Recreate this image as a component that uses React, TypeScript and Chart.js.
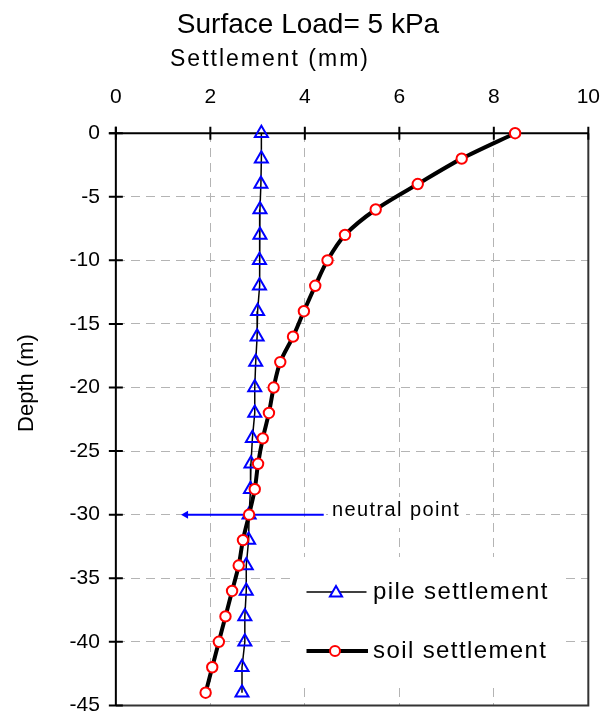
import React, { useEffect, useRef } from "react";
import { Chart, registerables } from "chart.js";

Chart.register(...registerables);

// ---- data ----
const depths = [0, -2, -4, -6, -8, -10, -12, -14, -16, -18, -20, -22, -24, -26, -28, -30, -32, -34, -36, -38, -40, -42, -44];
const pileSettlement = [3.08, 3.08, 3.07, 3.05, 3.05, 3.04, 3.04, 3.0, 2.99, 2.96, 2.94, 2.94, 2.89, 2.86, 2.85, 2.82, 2.81, 2.76, 2.76, 2.73, 2.73, 2.67, 2.67];
const soilSettlement = [8.45, 7.32, 6.39, 5.5, 4.85, 4.48, 4.22, 3.98, 3.75, 3.48, 3.34, 3.24, 3.11, 3.01, 2.94, 2.82, 2.69, 2.6, 2.46, 2.32, 2.18, 2.04, 1.9];
const seriesLabels = ["pile settlement", "soil settlement"];
const xRange = [0, 10];
const xStep = 2;
const yRange = [-45, 0];
const yStep = 5;
const neutralDepth = -30;
const neutralArrowFrom = 4.4;
const neutralArrowTo = 1.38;
const neutralLabel = "neutral point";
const chartTitle = "Surface Load= 5 kPa";
const xTitle = "Settlement (mm)";
const yTitle = "Depth (m)";

const FONT = '"Liberation Sans", Arial, sans-serif';

function trianglePath(ctx: CanvasRenderingContext2D, x: number, y: number, r: number) {
  let rad = 0;
  ctx.beginPath();
  ctx.moveTo(x + Math.sin(rad) * r, y - Math.cos(rad) * r);
  rad += (2 * Math.PI) / 3;
  ctx.lineTo(x + Math.sin(rad) * r, y - Math.cos(rad) * r);
  rad += (2 * Math.PI) / 3;
  ctx.lineTo(x + Math.sin(rad) * r, y - Math.cos(rad) * r);
  ctx.closePath();
}

const decorPlugin = {
  id: "decor",
  beforeDatasetsDraw(chart: any) {
    const { ctx, chartArea: a, scales } = chart;
    const xs = scales.x;
    const ys = scales.y;
    ctx.save();
    // white boxes behind legend and annotation text
    ctx.fillStyle = "#ffffff";
    ctx.fillRect(292, 557, 270, 126);
    ctx.fillRect(328, 497, 138, 31);

    // right & bottom border
    ctx.strokeStyle = "#333333";
    ctx.lineWidth = 2;
    ctx.beginPath();
    ctx.moveTo(a.right, a.top);
    ctx.lineTo(a.right, a.bottom);
    ctx.lineTo(a.left, a.bottom);
    ctx.stroke();

    // axes
    ctx.strokeStyle = "#000000";
    ctx.lineWidth = 2;
    ctx.beginPath();
    ctx.moveTo(a.left - 7, a.top);
    ctx.lineTo(a.right, a.top);
    ctx.moveTo(a.left, a.top - 6.5);
    ctx.lineTo(a.left, a.bottom);
    ctx.stroke();
    // cross ticks
    ctx.beginPath();
    xs.ticks.forEach((t: any) => {
      const px = xs.getPixelForValue(t.value);
      ctx.moveTo(px, a.top - 6.5);
      ctx.lineTo(px, a.top + 6.5);
    });
    ys.ticks.forEach((t: any) => {
      const py = ys.getPixelForValue(t.value);
      ctx.moveTo(a.left - 7, py);
      ctx.lineTo(a.left + 7, py);
    });
    ctx.stroke();

    // neutral point arrow
    const ay = ys.getPixelForValue(neutralDepth);
    const x1 = xs.getPixelForValue(neutralArrowFrom);
    const x2 = xs.getPixelForValue(neutralArrowTo);
    ctx.strokeStyle = "#0000ff";
    ctx.fillStyle = "#0000ff";
    ctx.lineWidth = 2;
    ctx.beginPath();
    ctx.moveTo(x1, ay);
    ctx.lineTo(x2 + 5, ay);
    ctx.stroke();
    ctx.beginPath();
    ctx.moveTo(x2, ay);
    ctx.lineTo(x2 + 7, ay - 4);
    ctx.lineTo(x2 + 7, ay + 4);
    ctx.closePath();
    ctx.fill();

    // annotation text
    ctx.fillStyle = "#000000";
    ctx.font = `20px ${FONT}`;
    (ctx as any).letterSpacing = "1.4px";
    ctx.textAlign = "left";
    ctx.textBaseline = "alphabetic";
    ctx.fillText(neutralLabel, 332, 516);
    (ctx as any).letterSpacing = "0px";
    ctx.restore();
  },
  afterDraw(chart: any) {
    const { ctx } = chart;
    ctx.save();
    ctx.fillStyle = "#000000";
    ctx.textBaseline = "alphabetic";
    // main title
    ctx.font = `28px ${FONT}`;
    ctx.textAlign = "center";
    ctx.fillText(chartTitle, 308, 33);
    // x title
    ctx.font = `23px ${FONT}`;
    (ctx as any).letterSpacing = "2px";
    ctx.textAlign = "left";
    ctx.fillText(xTitle, 170, 66);
    (ctx as any).letterSpacing = "0px";
    // y title
    ctx.save();
    ctx.translate(33, 383);
    ctx.rotate(-Math.PI / 2);
    ctx.font = `22px ${FONT}`;
    ctx.textAlign = "center";
    ctx.fillText(yTitle, 0, 0);
    ctx.restore();

    // legend
    // item 1
    ctx.strokeStyle = "#000000";
    ctx.lineWidth = 1.5;
    ctx.beginPath();
    ctx.moveTo(306.5, 592);
    ctx.lineTo(366.5, 592);
    ctx.stroke();
    ctx.fillStyle = "#ffffff";
    trianglePath(ctx, 336, 593, 7);
    ctx.fill();
    ctx.strokeStyle = "#0000ff";
    ctx.lineWidth = 2;
    ctx.stroke();
    // item 2
    ctx.strokeStyle = "#000000";
    ctx.lineWidth = 4;
    ctx.beginPath();
    ctx.moveTo(306.5, 651);
    ctx.lineTo(368, 651);
    ctx.stroke();
    ctx.beginPath();
    ctx.arc(335, 651, 5, 0, Math.PI * 2);
    ctx.fillStyle = "#ffffff";
    ctx.fill();
    ctx.strokeStyle = "#ff0000";
    ctx.lineWidth = 2;
    ctx.stroke();
    ctx.fillStyle = "#000000";
    ctx.font = `24px ${FONT}`;
    (ctx as any).letterSpacing = "1.4px";
    ctx.textAlign = "left";
    ctx.fillText(chart.data.datasets[0].label, 373, 599);
    ctx.fillText(chart.data.datasets[1].label, 373, 658);
    (ctx as any).letterSpacing = "0px";
    ctx.restore();
  },
};

export default function App() {
  const ref = useRef<HTMLCanvasElement | null>(null);
  useEffect(() => {
    if (!ref.current) return;
    const chart = new Chart(ref.current, {
      type: "scatter",
      data: {
        datasets: [
          {
            label: seriesLabels[0],
            data: depths.map((d, i) => ({ x: pileSettlement[i], y: d })),
            showLine: true,
            borderColor: "#000000",
            borderWidth: 1.5,
            pointStyle: "triangle",
            pointRadius: 7.5,
            pointBorderColor: "#0000ff",
            pointBackgroundColor: "rgba(0,0,0,0)",
            pointBorderWidth: 2,
            tension: 0,
            clip: false,
            order: 2,
          },
          {
            label: seriesLabels[1],
            data: depths.map((d, i) => ({ x: soilSettlement[i], y: d })),
            showLine: true,
            borderColor: "#000000",
            borderWidth: 4,
            pointStyle: "circle",
            pointRadius: 5.2,
            pointBorderColor: "#ff0000",
            pointBackgroundColor: "#ffffff",
            pointBorderWidth: 2,
            tension: 0.3,
            clip: false,
            order: 1,
          },
        ],
      },
      options: {
        responsive: false,
        animation: false,
        layout: { autoPadding: false, padding: { left: 53.5, top: 62, right: 0, bottom: 0 } },
        scales: {
          x: {
            type: "linear",
            position: "top",
            min: xRange[0],
            max: xRange[1],
            ticks: { stepSize: xStep, padding: 23, color: "#000000", font: { family: FONT, size: 21 } },
            grid: { drawTicks: false, color: "#b4b4b4", lineWidth: 1 },
            border: { display: false, dash: [9, 6] },
          },
          y: {
            type: "linear",
            position: "left",
            min: yRange[0],
            max: yRange[1],
            ticks: { stepSize: yStep, padding: 16, color: "#000000", font: { family: FONT, size: 21 } },
            grid: { drawTicks: false, color: "#b4b4b4", lineWidth: 1 },
            border: { display: false, dash: [9, 6] },
          },
        },
        plugins: {
          legend: { display: false },
          title: { display: false },
          tooltip: { enabled: false },
        },
      },
      plugins: [decorPlugin],
    } as any);
    return () => chart.destroy();
  }, []);
  return (
    <div style={{ position: "fixed", left: 0, top: 0, width: 603, height: 711, overflow: "hidden", background: "#ffffff" }}>
      <canvas ref={ref} width={623} height={734} style={{ display: "block" }} />
    </div>
  );
}
